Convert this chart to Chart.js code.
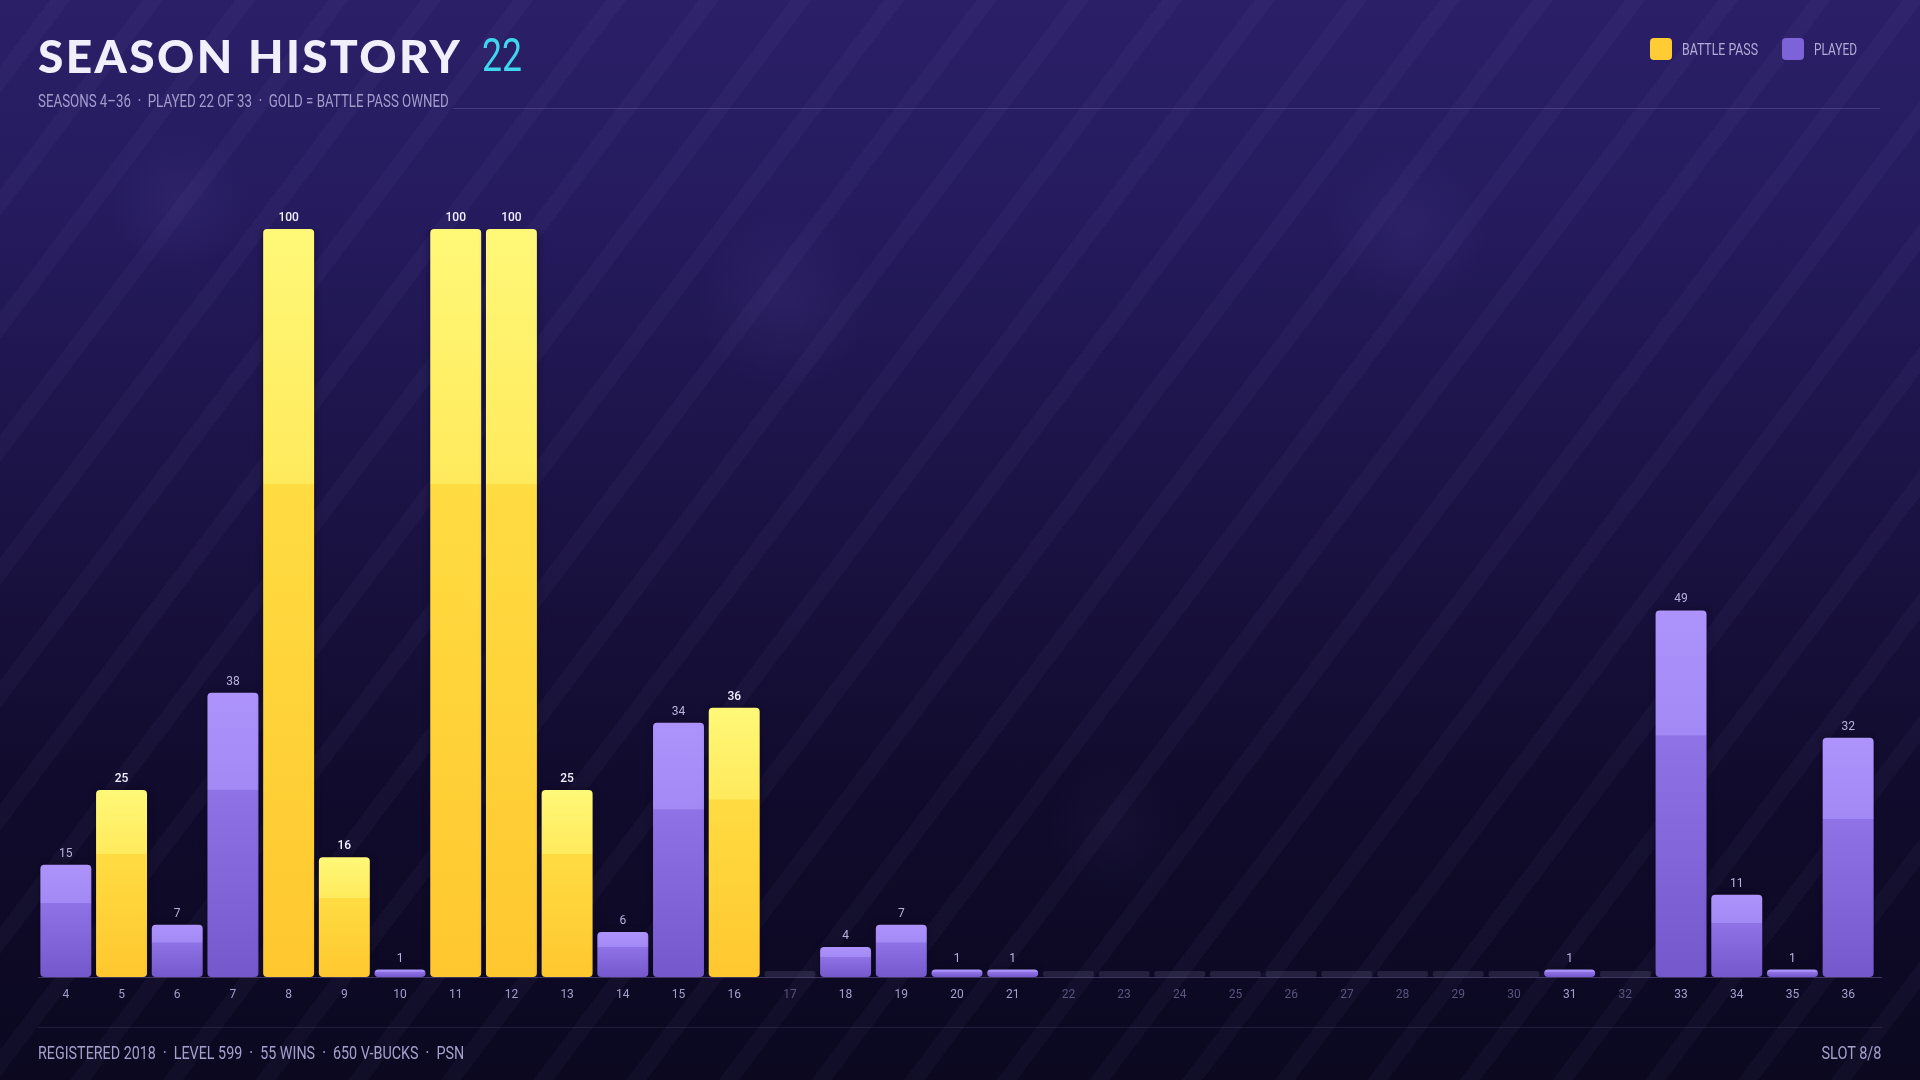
<!DOCTYPE html>
<html>
<head>
<meta charset="utf-8">
<script src="https://cdn.jsdelivr.net/npm/chart.js@4.4.1/dist/chart.umd.min.js"></script>
<style>
html, body { margin: 0; padding: 0; }
body {
    width: 1920px; height: 1080px; overflow: hidden; position: relative;
    background: linear-gradient(180deg, #2b2068 0%, #241a5c 22%, #19113f 52%, #100b2b 75%, #0b0820 100%);
    font-family: Roboto, "Liberation Sans", sans-serif;
}
.glow { position: absolute; inset: 0;
    background:
        radial-gradient(circle at 178px 200px, rgba(120,100,200,0.10) 0, rgba(120,100,200,0) 70px),
        radial-gradient(circle at 785px 300px, rgba(120,100,200,0.10) 0, rgba(120,100,200,0) 90px),
        radial-gradient(circle at 1408px 228px, rgba(120,100,200,0.10) 0, rgba(120,100,200,0) 80px),
        radial-gradient(circle at 1115px 830px, rgba(120,100,200,0.06) 0, rgba(120,100,200,0) 70px);
}
.stripes { position: absolute; inset: 0;
    background: repeating-linear-gradient(127deg, rgba(255,255,255,0) 0 40px, rgba(190,175,255,0.035) 40px 56px, rgba(255,255,255,0) 56px 74px);
}
#chart { position: absolute; left: 0; top: 0; }
.fit { display: inline-block; white-space: nowrap; transform-origin: left center; line-height: 1; }
.fit.r { transform-origin: right center; }
.title { position: absolute; left: 38px; top: 28px; font-family: Lato, "Open Sans", sans-serif; font-weight: 900; font-size: 46px; color: #f2effc; letter-spacing: 2.4px; }
.num { position: absolute; left: 482px; top: 31px; font-size: 47px; color: #3fd6ee; }
.sub { position: absolute; left: 38px; top: 92px; font-size: 18px; color: #a29bcb; }
.subline { position: absolute; left: 453px; right: 40px; top: 108px; height: 1px; background: rgba(170,160,230,0.22); }
.sw { position: absolute; top: 38px; width: 22px; height: 22px; border-radius: 4px; }
.leg { position: absolute; top: 41px; font-size: 17px; color: #b3acd8; }
.footline { position: absolute; left: 38px; right: 38px; top: 1027px; height: 1px; background: rgba(170,160,230,0.13); }
.foot { position: absolute; top: 1044px; font-size: 18px; color: #a59fcb; }
</style>
</head>
<body>
<div class="glow"></div>
<div class="stripes"></div>
<canvas id="chart" width="1920" height="1080"></canvas>

<div class="title">SEASON HISTORY</div>
<span class="fit num" data-w="40">22</span>
<span class="fit sub" data-w="411">SEASONS 4–36 &nbsp;·&nbsp; PLAYED 22 OF 33 &nbsp;·&nbsp; GOLD = BATTLE PASS OWNED</span>
<div class="subline"></div>
<span class="sw" style="left:1650px;background:#ffcc33"></span>
<span class="fit leg" style="left:1682px" data-w="76">BATTLE PASS</span>
<span class="sw" style="left:1782px;background:#7d63d8"></span>
<span class="fit leg" style="left:1814px" data-w="43">PLAYED</span>
<div class="footline"></div>
<span class="fit foot" style="left:38px" data-w="426">REGISTERED 2018 &nbsp;·&nbsp; LEVEL 599 &nbsp;·&nbsp; 55 WINS &nbsp;·&nbsp; 650 V-BUCKS &nbsp;·&nbsp; PSN</span>
<span class="fit foot r" style="right:39px" data-w="60">SLOT 8/8</span>

<script>
// season numbers and the level reached in each (null = not played)
const seasons = [4, 5, 6, 7, 8, 9, 10, 11, 12, 13, 14, 15, 16, 17, 18, 19, 20,
    21, 22, 23, 24, 25, 26, 27, 28, 29, 30, 31, 32, 33, 34, 35, 36];
const levels = [15, 25, 7, 38, 100, 16, 1, 100, 100, 25, 6, 34, 36, null, 4, 7, 1,
    1, null, null, null, null, null, null, null, null, null, 1, null, 49, 11, 1, 32];
const battlePassSeasons = [5, 8, 9, 11, 12, 13, 16];

// squeeze header/footer text to a condensed look
document.querySelectorAll('.fit').forEach(el => {
    const w = el.getBoundingClientRect().width;
    el.style.transform = `scaleX(${(+el.dataset.w / w).toFixed(3)})`;
});

const labelFont = 'Roboto, "Liberation Sans", sans-serif';
const goldStops = ['#fff878', '#ffea5c', '#ffdc42', '#ffc72f'];
const purpleStops = ['#ad93fb', '#a289f5', '#8f72e6', '#7458cc'];

const isBP = i => battlePassSeasons.includes(seasons[i]);

function barFill(c) {
    const chart = c.chart;
    const v = levels[c.dataIndex];
    if (!chart.chartArea || v == null) return 'transparent';
    const y = chart.scales.y;
    const top = y.getPixelForValue(v);
    const bottom = y.getPixelForValue(0);
    const g = chart.ctx.createLinearGradient(0, top, 0, bottom);
    const s = isBP(c.dataIndex) ? goldStops : purpleStops;
    g.addColorStop(0, s[0]);
    g.addColorStop(0.34, s[1]);
    g.addColorStop(0.342, s[2]);
    g.addColorStop(1, s[3]);
    return g;
}

const baseline = {
    id: 'baseline',
    beforeDatasetsDraw(chart) {
        const { ctx, chartArea } = chart;
        ctx.save();
        ctx.strokeStyle = 'rgba(150,140,210,0.35)';
        ctx.lineWidth = 1;
        ctx.beginPath();
        ctx.moveTo(chartArea.left, chartArea.bottom + 0.5);
        ctx.lineTo(chartArea.right + 6, chartArea.bottom + 0.5);
        ctx.stroke();
        ctx.restore();
    },
    beforeDatasetDraw(chart, args) {
        if (args.index !== 1) return;
        chart.ctx.save();
        chart.ctx.shadowColor = 'rgba(10,5,25,0.7)';
        chart.ctx.shadowBlur = 6;
    },
    afterDatasetDraw(chart, args) {
        if (args.index !== 1) return;
        chart.ctx.restore();
    }
};

const barLabels = {
    id: 'barLabels',
    afterDatasetsDraw(chart) {
        const { ctx } = chart;
        const meta = chart.getDatasetMeta(1);
        ctx.save();
        ctx.textAlign = 'center';
        ctx.textBaseline = 'bottom';
        meta.data.forEach((bar, i) => {
            const v = levels[i];
            if (v == null) return;
            ctx.font = (isBP(i) ? '500 ' : '400 ') + '12px ' + labelFont;
            ctx.fillStyle = isBP(i) ? '#f3efff' : '#bab2dd';
            ctx.fillText(String(v), bar.x, bar.y - 5);
        });
        ctx.restore();
    }
};

new Chart(document.getElementById('chart'), {
    type: 'bar',
    data: {
        labels: seasons.map(String),
        datasets: [
            {
                // empty track for unplayed seasons
                data: levels.map(v => v == null ? 0 : null),
                backgroundColor: 'rgba(120,112,150,0.22)',
                minBarLength: 6,
                borderRadius: 2,
                borderSkipped: false,
                grouped: false,
                barPercentage: 0.915,
                categoryPercentage: 1
            },
            {
                data: levels,
                backgroundColor: barFill,
                borderRadius: 4,
                borderSkipped: false,
                minBarLength: 7,
                grouped: false,
                barPercentage: 0.915,
                categoryPercentage: 1
            }
        ]
    },
    options: {
        responsive: false,
        devicePixelRatio: 1,
        animation: false,
        layout: { padding: { left: 38, right: 44, top: 229, bottom: 73 } },
        plugins: { legend: { display: false }, tooltip: { enabled: false } },
        scales: {
            x: {
                grid: { display: false },
                border: { display: false },
                ticks: {
                    padding: 3,
                    font: { family: labelFont, size: 12 },
                    color: c => levels[c.index] == null ? '#5a547e' : '#a49ecb',
                    maxRotation: 0,
                    autoSkip: false
                },
                afterFit(scale) { scale.height = 30; }
            },
            y: { display: false, min: 0, max: 100 }
        }
    },
    plugins: [baseline, barLabels]
});
</script>
</body>
</html>
